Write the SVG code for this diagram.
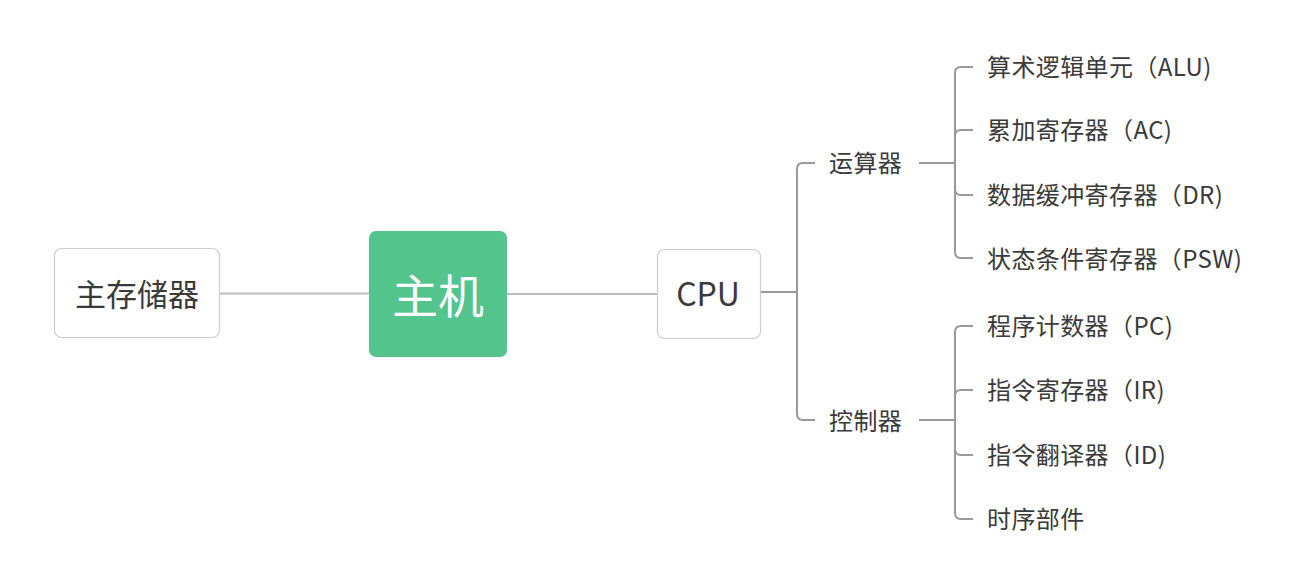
<svg xmlns="http://www.w3.org/2000/svg" width="1303" height="584" viewBox="0 0 1303 584">
<style>
text{font-family:"Microsoft YaHei","Noto Sans CJK SC","Noto Sans",sans-serif;fill:#3a3a3a;dominant-baseline:central}
.box{fill:#fff;stroke:#ccc;stroke-width:1.2}
.ln{fill:none;stroke:#bdbdbd;stroke-width:2}
.tr{fill:none;stroke:#999;stroke-width:2}
.lbl{font-size:24px;letter-spacing:0.4px}
</style>
<rect width="1303" height="584" fill="#fff"/>
<g id="connectors">
<path class="ln" d="M219 293.5H369"/>
<path class="ln" d="M507 294H657"/>
<path class="tr" d="M760 292H797"/>
<path class="tr" d="M797 292V169Q797 163 803 163H815"/>
<path class="tr" d="M797 292V414Q797 420 803 420H815"/>
<path class="tr" d="M919 163H955"/>
<path class="tr" d="M955 163V73Q955 67 961 67H973"/>
<path class="tr" d="M955 163V136Q955 130 961 130H973"/>
<path class="tr" d="M955 163V189Q955 195 961 195H973"/>
<path class="tr" d="M955 163V252Q955 258 961 258H973"/>
<path class="tr" d="M919 420H955"/>
<path class="tr" d="M955 420V332Q955 326 961 326H973"/>
<path class="tr" d="M955 420V396Q955 390 961 390H973"/>
<path class="tr" d="M955 420V449Q955 455 961 455H973"/>
<path class="tr" d="M955 420V513Q955 519 961 519H973"/>
</g>
<g id="main-memory">
<rect class="box" x="54.5" y="248.5" width="165" height="89" rx="7"/>
<text x="137" y="292" font-size="31" text-anchor="middle">主存储器</text>
</g>
<g id="host">
<rect x="369" y="231" width="138" height="126" rx="7" fill="#52c48c"/>
<text x="438" y="293" font-size="46" text-anchor="middle" style="fill:#fff">主机</text>
</g>
<g id="cpu">
<rect class="box" x="657.5" y="249.5" width="103" height="89" rx="7"/>
<text x="708" y="292" font-size="32" text-anchor="middle">CPU</text>
</g>
<g id="alu-group"><text class="lbl" x="829" y="161">运算器</text></g>
<g id="ctrl-group"><text class="lbl" x="829" y="419">控制器</text></g>
<g id="alu"><text class="lbl" x="987" y="65">算术逻辑单元（ALU)</text></g>
<g id="ac"><text class="lbl" x="987" y="128">累加寄存器（AC)</text></g>
<g id="dr"><text class="lbl" x="987" y="193">数据缓冲寄存器（DR)</text></g>
<g id="psw"><text class="lbl" x="987" y="257">状态条件寄存器（PSW)</text></g>
<g id="pc"><text class="lbl" x="987" y="324">程序计数器（PC)</text></g>
<g id="ir"><text class="lbl" x="987" y="388">指令寄存器（IR)</text></g>
<g id="id"><text class="lbl" x="987" y="453">指令翻译器（ID)</text></g>
<g id="timing"><text class="lbl" x="987" y="517">时序部件</text></g>
</svg>
